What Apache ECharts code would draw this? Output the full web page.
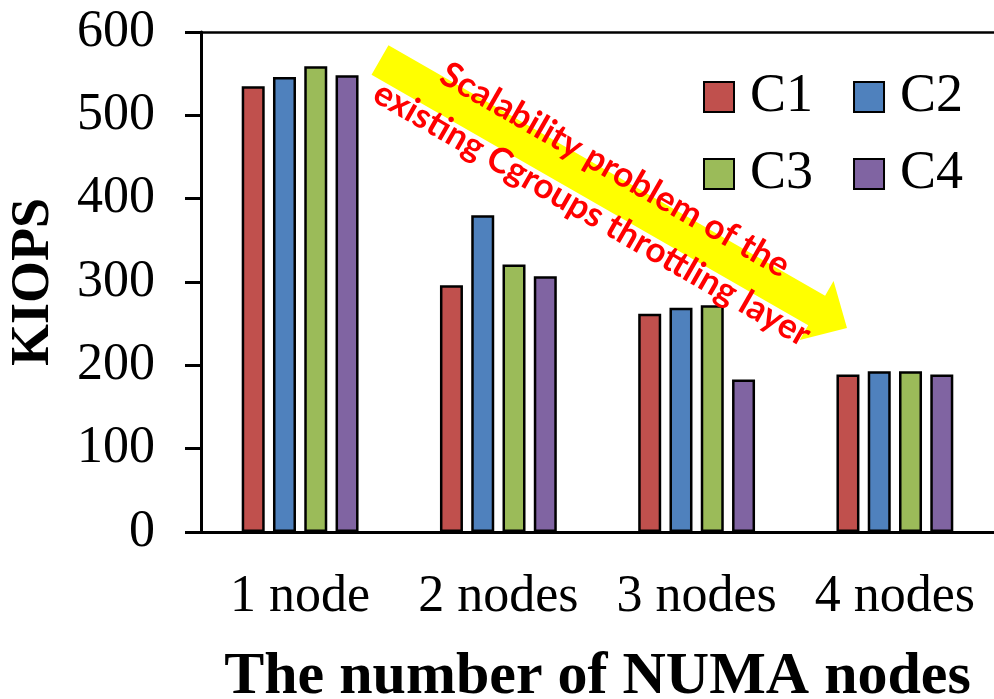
<!DOCTYPE html>
<html>
<head>
<meta charset="utf-8">
<script src="https://cdn.jsdelivr.net/npm/echarts@6/dist/echarts.min.js"></script>
<style>
html,body{margin:0;padding:0;background:#fff;}
#chart{width:994px;height:699px;}
</style>
</head>
<body>
<div id="chart"></div>
<script>
const categories = ['1 node', '2 nodes', '3 nodes', '4 nodes'];
const seriesNames = ['C1', 'C2', 'C3', 'C4'];
const c1 = [535, 296, 262, 189];
const c2 = [546, 380, 269, 193];
const c3 = [559, 321, 272, 193];
const c4 = [548, 307, 183, 189];
const yTicks = [0, 100, 200, 300, 400, 500, 600];
const colors = ['#C0504D', '#4F81BD', '#9BBB59', '#8064A2'];
const annotationLines = ['Scalability problem of the', 'existing Cgroups throttling layer'];

const seriesData = [c1, c2, c3, c4];
const serif = 'Liberation Serif, Times New Roman, serif';

const chart = echarts.init(document.getElementById('chart'));

// arrow geometry (annotation)
const tail = [380, 60], tip = [847, 328];
const dx = tip[0] - tail[0], dy = tip[1] - tail[1];
const len = Math.hypot(dx, dy);
const u = [dx / len, dy / len];
const n = [-u[1], u[0]];
const shaftHalf = 17, headHalf = 34, headLen = 35;
const H = [tip[0] - headLen * u[0], tip[1] - headLen * u[1]];
const P = (p, k, v) => [p[0] + k * v[0], p[1] + k * v[1]];
const arrowPts = [
  P(tail, -shaftHalf, n),
  P(H, -shaftHalf, n),
  P(H, -headHalf, n),
  tip,
  P(H, headHalf, n),
  P(H, shaftHalf, n),
  P(tail, shaftHalf, n)
];
const angle = Math.atan2(dy, dx);

const legendCommon = {
  icon: 'rect',
  itemWidth: 30,
  itemHeight: 30,
  itemGap: 40,
  left: 698,
  textStyle: { fontFamily: serif, fontSize: 54, color: '#000', lineHeight: 60, padding: [0, 0, 0, 11] }
};

chart.setOption({
  animation: false,
  backgroundColor: '#fff',
  color: colors,
  grid: { left: 201, right: 0, top: 32, bottom: 167, containLabel: false, outerBoundsMode: 'none' },
  legend: [
    Object.assign({ data: ['C1', 'C2'], top: 62 }, legendCommon),
    Object.assign({ data: ['C3', 'C4'], top: 139 }, legendCommon)
  ],
  xAxis: [{
    type: 'category',
    data: categories,
    axisLine: { show: true, lineStyle: { color: '#000', width: 3 } },
    axisTick: { show: false },
    axisLabel: { fontFamily: serif, fontSize: 52, color: '#000', margin: 39, interval: 0 },
    name: 'The number of NUMA nodes',
    nameLocation: 'middle',
    nameGap: 115,
    nameTextStyle: { fontFamily: serif, fontSize: 60, fontWeight: 'bold', color: '#000' }
  }, {
    type: 'category',
    position: 'top',
    data: categories,
    axisLine: { show: true, lineStyle: { color: '#000', width: 2.5 } },
    axisTick: { show: false },
    axisLabel: { show: false }
  }],
  yAxis: {
    type: 'value',
    min: 0,
    max: 600,
    interval: 100,
    axisLine: { show: true, lineStyle: { color: '#000', width: 3 } },
    axisTick: { show: true, inside: false, length: 16, lineStyle: { color: '#000', width: 3 } },
    splitLine: { show: false },
    axisLabel: {
      fontFamily: serif, fontSize: 52, color: '#000', margin: 46,
      formatter: v => yTicks.indexOf(v) >= 0 ? String(v) : ''
    },
    name: 'KIOPS',
    nameLocation: 'middle',
    nameGap: 140,
    nameRotate: 90,
    nameTextStyle: { fontFamily: serif, fontSize: 54, fontWeight: 'bold', color: '#000' }
  },
  series: seriesNames.map((name, i) => ({
    name: name,
    type: 'bar',
    xAxisIndex: 0,
    data: seriesData[i],
    barWidth: 23,
    barGap: '36%',
    itemStyle: { color: colors[i], borderColor: '#000', borderWidth: 2.5 }
  })),
  graphic: [
    {
      type: 'polygon',
      shape: { points: arrowPts },
      style: { fill: '#FFFF00' },
      z: 10
    },
    {
      type: 'text',
      x: 615, y: 170,
      rotation: -angle,
      style: {
        text: annotationLines[0],
        fill: '#FF0000',
        font: 'bold 35px Lato, sans-serif',
        textAlign: 'center',
        textVerticalAlign: 'middle'
      },
      z: 11
    },
    {
      type: 'text',
      x: 592, y: 214,
      rotation: -angle,
      style: {
        text: annotationLines[1],
        fill: '#FF0000',
        font: 'bold 35px Lato, sans-serif',
        textAlign: 'center',
        textVerticalAlign: 'middle'
      },
      z: 11
    }
  ]
});
</script>
</body>
</html>
